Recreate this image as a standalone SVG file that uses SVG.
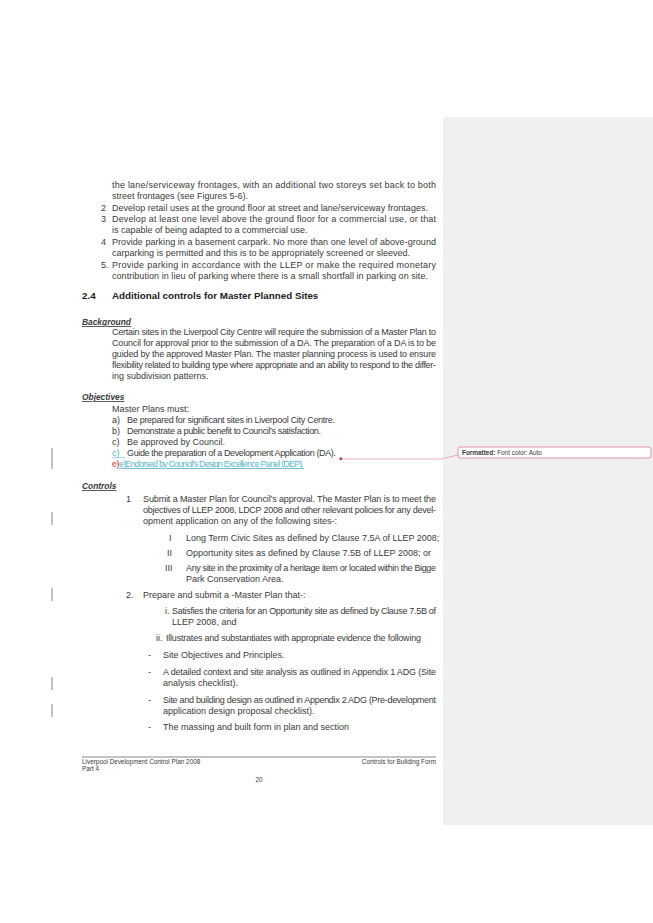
<svg xmlns="http://www.w3.org/2000/svg" width="653" height="923" viewBox="0 0 653 923">
<style>
text{font-family:"Liberation Sans",Arial,sans-serif;font-size:9px;fill:#3a3a3a}
.h{font-size:9.8px;font-weight:bold;fill:#222}
.u{font-style:italic;text-decoration:underline;font-weight:bold;font-size:8.4px}
.b{fill:#5bb8d0}
.f{font-size:6.4px}
.bar{stroke:#666;stroke-width:0.8}
</style>
<rect width="653" height="923" fill="#fff"/>
<rect x="443" y="117" width="210" height="708" fill="#f0f0f0"/>
<g id="body">
<text x="112" y="188" textLength="324" lengthAdjust="spacing">the lane/serviceway frontages, with an additional two storeys set back to both</text>
<text x="112" y="199">street frontages (see Figures 5-6).</text>
<text x="101" y="211">2</text><text x="112" y="211" textLength="316" lengthAdjust="spacing">Develop retail uses at the ground floor at street and lane/serviceway frontages.</text>
<text x="101" y="222">3</text><text x="112" y="222" textLength="324" lengthAdjust="spacing">Develop at least one level above the ground floor for a commercial use, or that</text>
<text x="112" y="233">is capable of being adapted to a commercial use.</text>
<text x="101" y="245">4</text><text x="112" y="245" textLength="324" lengthAdjust="spacing">Provide parking in a basement carpark. No more than one level of above-ground</text>
<text x="112" y="256" textLength="298" lengthAdjust="spacing">carparking is permitted and this is to be appropriately screened or sleeved.</text>
<text x="101" y="268">5.</text><text x="112" y="268" textLength="324" lengthAdjust="spacing">Provide parking in accordance with the LLEP or make the required monetary</text>
<text x="112" y="279" textLength="316" lengthAdjust="spacing">contribution in lieu of parking where there is a small shortfall in parking on site.</text>
<text class="h" x="82" y="299">2.4</text><text class="h" x="112" y="299">Additional controls for Master Planned Sites</text>
<text class="u" x="82" y="325">Background</text>
<text x="112" y="335" textLength="324" lengthAdjust="spacing">Certain sites in the Liverpool City Centre will require the submission of a Master Plan to</text>
<text x="112" y="346" textLength="324" lengthAdjust="spacing">Council for approval prior to the submission of a DA. The preparation of a DA  is to be</text>
<text x="112" y="357" textLength="324" lengthAdjust="spacing">guided by the approved Master Plan. The master planning process is used to ensure</text>
<text x="112" y="368" textLength="324" lengthAdjust="spacing">flexibility related to building type where appropriate and an ability to respond to the differ-</text>
<text x="112" y="379">ing subdivision patterns.</text>
<text class="u" x="82" y="400">Objectives</text>
<text x="112" y="412">Master Plans must:</text>
<text x="112" y="423">a)</text><text x="127" y="423" textLength="208" lengthAdjust="spacing">Be prepared for significant sites in Liverpool City Centre.</text>
<text x="112" y="434">b)</text><text x="127" y="434" textLength="194" lengthAdjust="spacing">Demonstrate a public benefit to Council’s satisfaction.</text>
<text x="112" y="445">c)</text><text x="127" y="445">Be approved by Council.</text>
<text x="112" y="456" class="b">c)</text><line x1="112" y1="457.5" x2="125" y2="457.5" stroke="#5bb8d0" stroke-width="0.5"/><text x="127" y="456" textLength="209" lengthAdjust="spacing">Guide the preparation of a Development Application (DA).</text>
<text x="112" y="467" style="fill:#c33">c)</text><line x1="112" y1="464" x2="119" y2="464" stroke="#c33" stroke-width="0.6"/><text x="119" y="467" class="b" text-decoration="underline" textLength="185" lengthAdjust="spacing">e)Endorsed by Council’s Design Excellence Panel (DEP).</text>
<text class="u" x="82" y="489">Controls</text>
<text x="126" y="502">1</text><text x="143" y="502" textLength="293" lengthAdjust="spacing">Submit a Master Plan for Council’s approval. The Master Plan is to  meet the</text>
<text x="143" y="513" textLength="293" lengthAdjust="spacing">objectives of LLEP 2008, LDCP 2008 and other relevant policies for any devel-</text>
<text x="143" y="524">opment application on any of the following sites-:</text>
<text x="169" y="541">I</text><text x="186" y="541">Long Term Civic Sites as defined by Clause 7.5A of LLEP 2008;</text>
<text x="167" y="556">II</text><text x="186" y="556">Opportunity sites as defined by Clause 7.5B of LLEP 2008; or</text>
<text x="165" y="571">III</text><text x="186" y="571" textLength="250" lengthAdjust="spacing">Any site in the proximity of a heritage item or located within the Bigge</text>
<text x="186" y="582">Park Conservation Area.</text>
<text x="126" y="598">2.</text><text x="143" y="598">Prepare and submit a -Master Plan that-:</text>
<text x="165" y="614">i.</text><text x="172" y="614" textLength="264" lengthAdjust="spacing">Satisfies the criteria for an Opportunity site as defined by Clause 7.5B of</text>
<text x="172" y="625">LLEP 2008, and</text>
<text x="156" y="641">ii.</text><text x="166" y="641" textLength="255" lengthAdjust="spacing">Illustrates and substantiates with appropriate evidence the following</text>
<text x="148" y="658">-</text><text x="163" y="658">Site Objectives and Principles.</text>
<text x="148" y="675">-</text><text x="163" y="675" textLength="273" lengthAdjust="spacing">A detailed context and site analysis as outlined in Appendix 1 ADG (Site</text>
<text x="163" y="686">analysis checklist).</text>
<text x="148" y="703">-</text><text x="163" y="703" textLength="273" lengthAdjust="spacing">Site and building design as outlined in Appendix 2 ADG (Pre-development</text>
<text x="163" y="714">application design proposal checklist).</text>
<text x="148" y="730">-</text><text x="163" y="730">The massing and built form in plan and section</text>
</g>
<g id="footer">
<line x1="82" y1="757" x2="436" y2="757" stroke="#555" stroke-width="0.7"/>
<text class="f" x="82" y="764">Liverpool Development Control Plan 2008</text>
<text class="f" x="82" y="771">Part 4</text>
<text class="f" x="436" y="764" text-anchor="end">Controls for Building Form</text>
<text class="f" x="259" y="782" text-anchor="middle">20</text>
</g>
<g id="changebars">
<line class="bar" x1="52" y1="448" x2="52" y2="469"/>
<line class="bar" x1="52" y1="512" x2="52" y2="525"/>
<line class="bar" x1="52" y1="588" x2="52" y2="601"/>
<line class="bar" x1="52" y1="677" x2="52" y2="690"/>
<line class="bar" x1="52" y1="704" x2="52" y2="717"/>
</g>
<g id="connectors">
<polyline points="341,459 441,459 458,455" fill="none" stroke="#d87a95" stroke-width="0.6"/>
<rect x="339.5" y="457.5" width="2.5" height="2.5" fill="#c33"/>
</g>
<g id="comment">
<rect x="458" y="447" width="193" height="11" rx="2" fill="#fff" stroke="#d87a95" stroke-width="0.8"/>
<text class="f" x="462" y="455"><tspan font-weight="bold">Formatted:</tspan> Font color: Auto</text>
</g>
</svg>
